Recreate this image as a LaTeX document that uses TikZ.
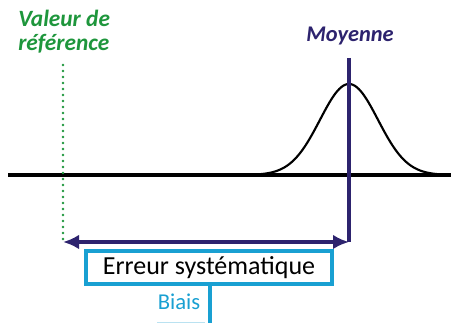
\documentclass[tikz,border=0pt]{standalone}
\usepackage{fontspec}
\setmainfont{Carlito}
\usetikzlibrary{arrows.meta, positioning}
\definecolor{refgreen}{RGB}{30,150,60}
\definecolor{meannavy}{RGB}{45,35,110}
\definecolor{biascyan}{RGB}{25,160,210}

\begin{document}
\begin{tikzpicture}[
  x=0.75pt, y=-0.75pt,
  axis/.style={line width=2.6pt, black},
  curve/.style={line width=1.6pt, black},
  meanline/.style={line width=2.8pt, meannavy},
  refline/.style={line width=2pt, refgreen, line cap=round, dash pattern=on 0pt off 4.5pt},
  errbox/.style={rectangle, draw=biascyan, line width=2.8pt, fill=white,
                 minimum width=246*0.75pt, minimum height=33*0.75pt,
                 inner sep=0pt, font=\fontsize{19.5}{22}\selectfont},
  label/.style={font=\bfseries\itshape\fontsize{17.5}{18}\selectfont, inner sep=0pt}
]
\useasboundingbox (0,0) rectangle (451,323);
% axis and distribution
\coordinate (axisL) at (8,175);
\coordinate (axisR) at (451,175);
\draw[axis] (axisL) -- (axisR);
\draw[curve, domain=252:448, samples=120, smooth]
  plot (\x, {175-91*exp(-((\x-349)/29)^2/2)});
% labels
\node[label, refgreen, align=left, anchor=north west] (ref) at (18,10)
  {Valeur de\\référence};
\node[label, meannavy, anchor=north, font=\bfseries\itshape\fontsize{16.8}{18}\selectfont] (mean) at (350,27) {Moyenne};
% reference and mean
\coordinate (refTop) at (63,65);
\coordinate (refBot) at (63,242);
\coordinate (meanTop) at (349,58);
\coordinate (meanBot) at (349,242);
\draw[refline] (refTop) -- (refBot);
\draw[meanline] (meanTop) -- (meanBot);
\draw[meanline, {Latex[length=12pt,width=11pt]}-{Latex[length=12pt,width=11pt]}]
  (refBot) -- (meanBot);
% systematic error
\node[errbox] (err) at (209,267.5) {Erreur systématique};
\coordinate (biasEnd) at (210,323);
\draw[biascyan, line width=2.8pt] (err.south -| biasEnd) -- (biasEnd);
\node[font=\fontsize{17}{18}\selectfont, text=biascyan, inner sep=0pt] (bias) at (179,302) {Biais};
\draw[biascyan!30, line width=1pt] (157,322.5) -- (205,322.5);
\end{tikzpicture}
\end{document}
